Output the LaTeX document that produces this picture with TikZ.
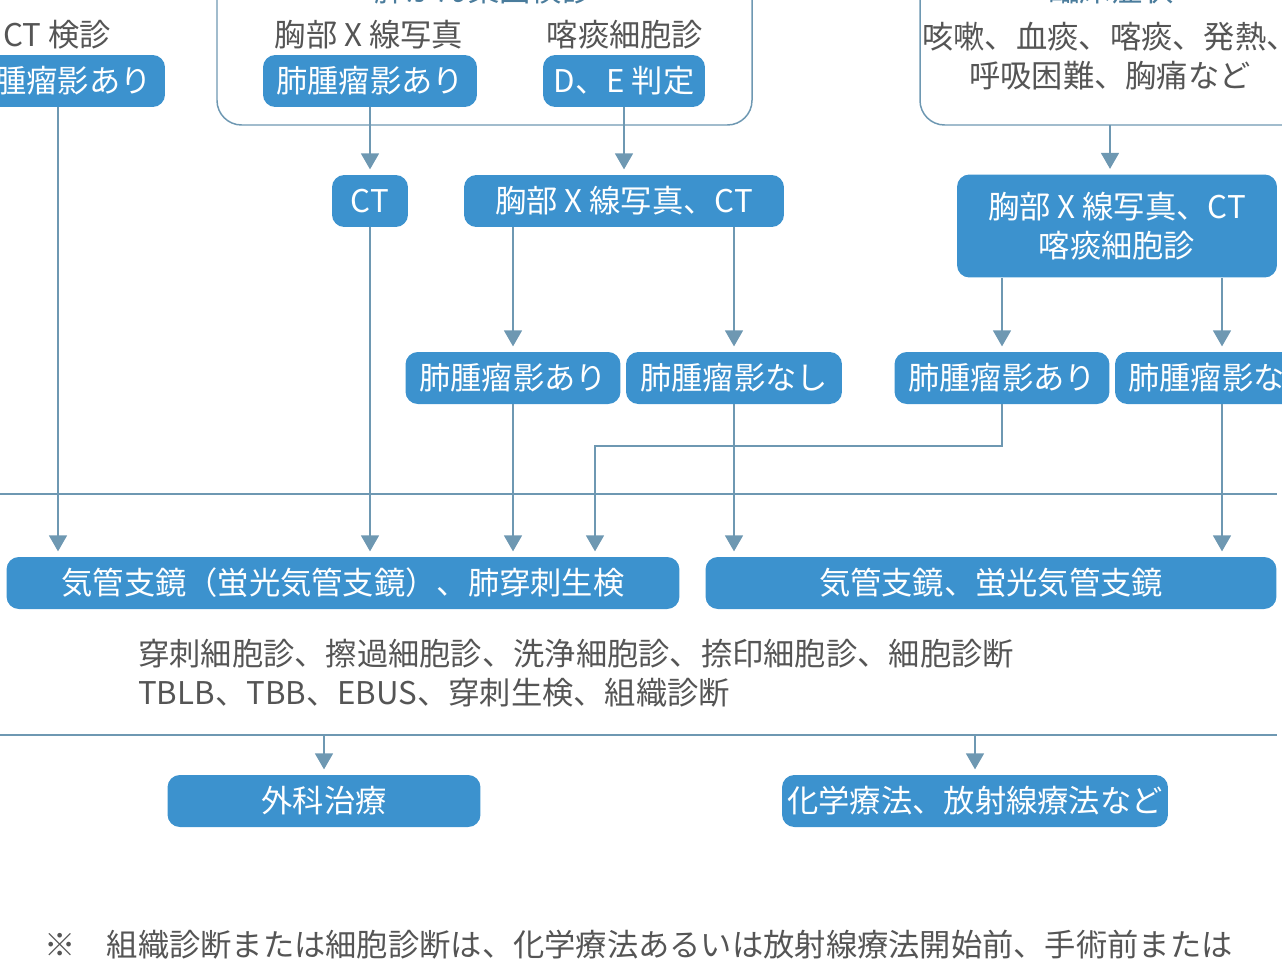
\documentclass[tikz,border=0pt]{standalone}
\usepackage{fontspec}
\setmainfont{Noto Sans CJK JP}
\usetikzlibrary{arrows.meta}
\definecolor{boxblue}{HTML}{3C92CE}
\definecolor{linegray}{HTML}{6E98B2}
\definecolor{textgray}{HTML}{555555}
\definecolor{titleblue}{HTML}{4A7C9C}
\begin{document}
\begin{tikzpicture}[x=0.02cm,y=-0.02cm,>={Triangle[length=0.32cm,width=0.36cm]},
	font=\fontsize{17.8}{22}\selectfont,
	box/.style={fill=boxblue,text=white,rounded corners=7pt,minimum height=1.04cm,inner sep=0pt},
	lbl/.style={text=textgray},
	link/.style={draw=linegray,line width=0.85pt,shorten >=3pt},
	frame/.style={draw=linegray,line width=0.85pt,rounded corners=14pt}]
	\useasboundingbox (0,0) rectangle (1282,974);
	% frames of the two upper groups
	\draw [frame] (217,-60) rectangle (752,125);
	\draw [frame] (920,-60) rectangle (1340,125);
	\node [text=titleblue] (mass) at (484,-10) {肺がん集団検診};
	\node [text=titleblue] (clin) at (1111,-10) {臨床症状};
	% upper row
	\node [lbl] (ctscr) at (57,35) {CT 検診};
	\node [box,minimum width=4.28cm] (ctari) at (58,81) {肺腫瘤影あり};
	\node [lbl] (xray) at (369,35) {胸部 X 線写真};
	\node [box,minimum width=4.28cm] (xari) at (370,81) {肺腫瘤影あり};
	\node [lbl] (sput) at (625,35) {喀痰細胞診};
	\node [box,minimum width=3.24cm] (de) at (624,81) {D、E 判定};
	\node [lbl,align=center] (symp) at (1110,56) {咳嗽、血痰、喀痰、発熱、\\呼吸困難、胸痛など};
	\coordinate (sympbot) at (1110,125);
	% second row
	\node [box,minimum width=1.52cm] (ct) at (370,201) {CT};
	\node [box,minimum width=6.4cm] (xct) at (624,201) {胸部 X 線写真、CT};
	\node [box,minimum width=6.4cm,minimum height=2.06cm,align=center] (xcts) at (1117,226) {胸部 X 線写真、CT\\喀痰細胞診};
	% third row
	\node [box,minimum width=4.3cm] (ari1) at (513,378) {肺腫瘤影あり};
	\node [box,minimum width=4.32cm] (nashi1) at (734,378) {肺腫瘤影なし};
	\node [box,minimum width=4.3cm] (ari2) at (1002,378) {肺腫瘤影あり};
	\node [box,minimum width=4.28cm] (nashi2) at (1222,378) {肺腫瘤影なし};
	% examinations
	\node [box,minimum width=13.46cm] (bron1) at (343,583) {気管支鏡（蛍光気管支鏡）、肺穿刺生検};
	\node [box,minimum width=11.42cm] (bron2) at (991,583) {気管支鏡、蛍光気管支鏡};
	\node [lbl,anchor=west,align=left] (diag) at (132,673) {穿刺細胞診、擦過細胞診、洗浄細胞診、捺印細胞診、細胞診断\\TBLB、TBB、EBUS、穿刺生検、組織診断};
	% treatment
	\node [box,minimum width=6.26cm] (surg) at (324,801) {外科治療};
	\node [box,minimum width=7.72cm] (chemo) at (975,801) {化学療法、放射線療法など};
	\node [lbl,anchor=west] (note) at (38,945) {※\quad 組織診断または細胞診断は、化学療法あるいは放射線療法開始前、手術前または};
	% rules
	\draw [link] (0,494) -- (1282,494);
	\draw [link] (0,735) -- (1282,735);
	\coordinate (turn) at (595,446);
	% connectors
	\draw [link,->] (ctari) -- (ctari |- bron1.north);
	\draw [link,->] (xari) -- (ct);
	\draw [link,->] (de) -- (xct);
	\draw [link,->] (ct) -- (ct |- bron1.north);
	\draw [link,->] (xct.south -| ari1) -- (ari1);
	\draw [link,->] (xct.south -| nashi1) -- (nashi1);
	\draw [link,->] (ari1) -- (ari1 |- bron1.north);
	\draw [link,->] (nashi1) -- (nashi1 |- bron2.north);
	\draw [link,->] (sympbot) -- (sympbot |- xcts.north);
	\draw [link,->] (xcts.south -| ari2) -- (ari2);
	\draw [link,->] (xcts.south -| nashi2) -- (nashi2);
	\draw [link,->] (ari2) |- (turn) -- (turn |- bron1.north);
	\draw [link,->] (nashi2) -- (nashi2 |- bron2.north);
	\draw [link,->] (324,735) -- (surg);
	\draw [link,->] (975,735) -- (chemo);
\end{tikzpicture}
\end{document}
